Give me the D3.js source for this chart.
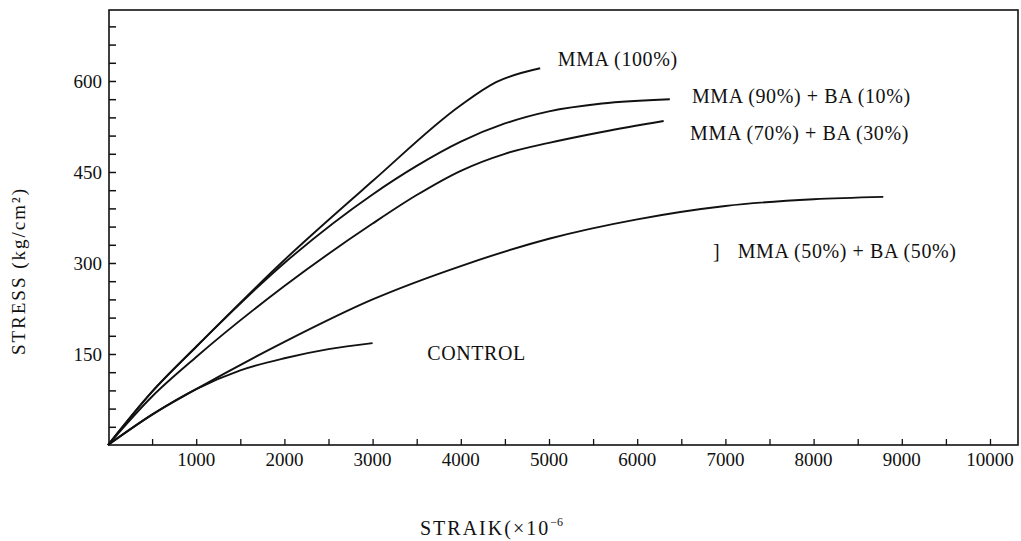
<!DOCTYPE html>
<html>
<head>
<meta charset="utf-8">
<script src="https://cdn.jsdelivr.net/npm/d3@7"></script>
<style>
  body { margin: 0; background: #fff; }
  text { font-family: "Liberation Serif", "DejaVu Serif", serif; fill: #111; }
</style>
</head>
<body>
<svg id="chart" width="1021" height="541"></svg>
<script>
// strain (x10^-6) , stress (kg/cm2)
var control = [[0,0],[500,50],[1000,92],[1500,123],[2000,143],[2500,158],[3000,168]];
var mma50   = [[0,0],[500,50],[1000,92],[2000,170],[3000,240],[4000,295],[5000,340],[6000,372],[7000,394],[8000,405],[8790,409]];
var mma70   = [[0,0],[500,80],[1000,145],[2000,262],[3000,365],[3500,412],[4000,452],[4500,480],[5000,498],[5600,516],[6300,534]];
var mma90   = [[0,0],[500,88],[1000,162],[2000,300],[3000,413],[3500,460],[4000,500],[4500,530],[5000,550],[5600,563],[6370,570]];
var mma100  = [[0,0],[500,88],[1000,162],[2000,305],[3000,435],[4000,560],[4400,598],[4900,621]];

var xLabels = [1000,2000,3000,4000,5000,6000,7000,8000,9000,10000];
var yLabels = [150,300,450,600];

// label anchors in data units
var notes = [
  {t: "MMA (100%)", s: 5100, v: 625},
  {t: "MMA (90%) + BA (10%)", s: 6620, v: 564},
  {t: "MMA (70%) + BA (30%)", s: 6600, v: 503},
  {t: "]", s: 6860, v: 308},
  {t: "MMA (50%) + BA (50%)", s: 7140, v: 308},
  {t: "CONTROL", s: 3620, v: 140}
];

var svg = d3.select("#chart"),
    mLeft = 109, mRight = 1018, mTop = 10, mBottom = 445;

var x = d3.scaleLinear().domain([0, 10300]).range([108, 108 + 10300 * 0.0882]);
var y = d3.scaleLinear().domain([0, 717]).range([mBottom, mTop]);

svg.append("rect").attr("width", 1021).attr("height", 541).attr("fill", "#fff");

// frame
svg.append("rect")
    .attr("x", mLeft).attr("y", mTop)
    .attr("width", mRight - mLeft).attr("height", mBottom - mTop)
    .attr("fill", "none").attr("stroke", "#111").attr("stroke-width", 1.6);

// y ticks every 30, pointing inward
var yAxis = svg.append("g")
    .attr("transform", "translate(" + mLeft + ",0)")
    .call(d3.axisRight(y).tickValues(d3.range(30, 700, 30)).tickSize(7).tickFormat(""));
yAxis.select(".domain").remove();
yAxis.selectAll("line").attr("stroke", "#111").attr("stroke-width", 1.5);

svg.append("g").selectAll("text")
    .data(yLabels)
    .enter().append("text")
      .attr("x", mLeft - 7)
      .attr("y", function(d) { return y(d); })
      .attr("dy", "0.35em")
      .attr("text-anchor", "end")
      .attr("font-size", 19)
      .text(function(d) { return d; });

// x ticks every 500
var xAxis = svg.append("g")
    .attr("transform", "translate(0," + mBottom + ")")
    .call(d3.axisTop(x).tickValues(d3.range(500, 10001, 500)).tickSize(6).tickFormat(""));
xAxis.select(".domain").remove();
xAxis.selectAll("line").attr("stroke", "#111").attr("stroke-width", 1.3);

svg.append("g").selectAll("text")
    .data(xLabels)
    .enter().append("text")
      .attr("x", function(d) { return x(d); })
      .attr("y", mBottom + 21)
      .attr("text-anchor", "middle")
      .attr("font-size", 19)
      .text(function(d) { return d; });

// curves
var line = d3.line()
    .x(function(d) { return x(d[0]); })
    .y(function(d) { return y(d[1]); })
    .curve(d3.curveMonotoneX);

svg.append("g").selectAll("path")
    .data([control, mma50, mma70, mma90, mma100])
    .enter().append("path")
      .attr("d", line)
      .attr("fill", "none")
      .attr("stroke", "#111")
      .attr("stroke-width", 1.9);

svg.append("g").selectAll("text")
    .data(notes)
    .enter().append("text")
      .attr("x", function(d) { return x(d.s); })
      .attr("y", function(d) { return y(d.v); })
      .attr("font-size", 20)
      .attr("letter-spacing", 0.6)
      .text(function(d) { return d.t; });

// axis titles
svg.append("text")
    .attr("transform", "translate(25,271)rotate(-90)")
    .attr("text-anchor", "middle")
    .attr("font-size", 19)
    .attr("letter-spacing", 2)
    .text("STRESS (kg/cm²)");

var xt = svg.append("text")
    .attr("x", 420).attr("y", 535)
    .attr("font-size", 20)
    .attr("letter-spacing", 2);
xt.append("tspan").text("STRAIK(×10");
xt.append("tspan").attr("dy", -9).attr("font-size", 12).attr("letter-spacing", 0).text("−6");
</script>
</body>
</html>
